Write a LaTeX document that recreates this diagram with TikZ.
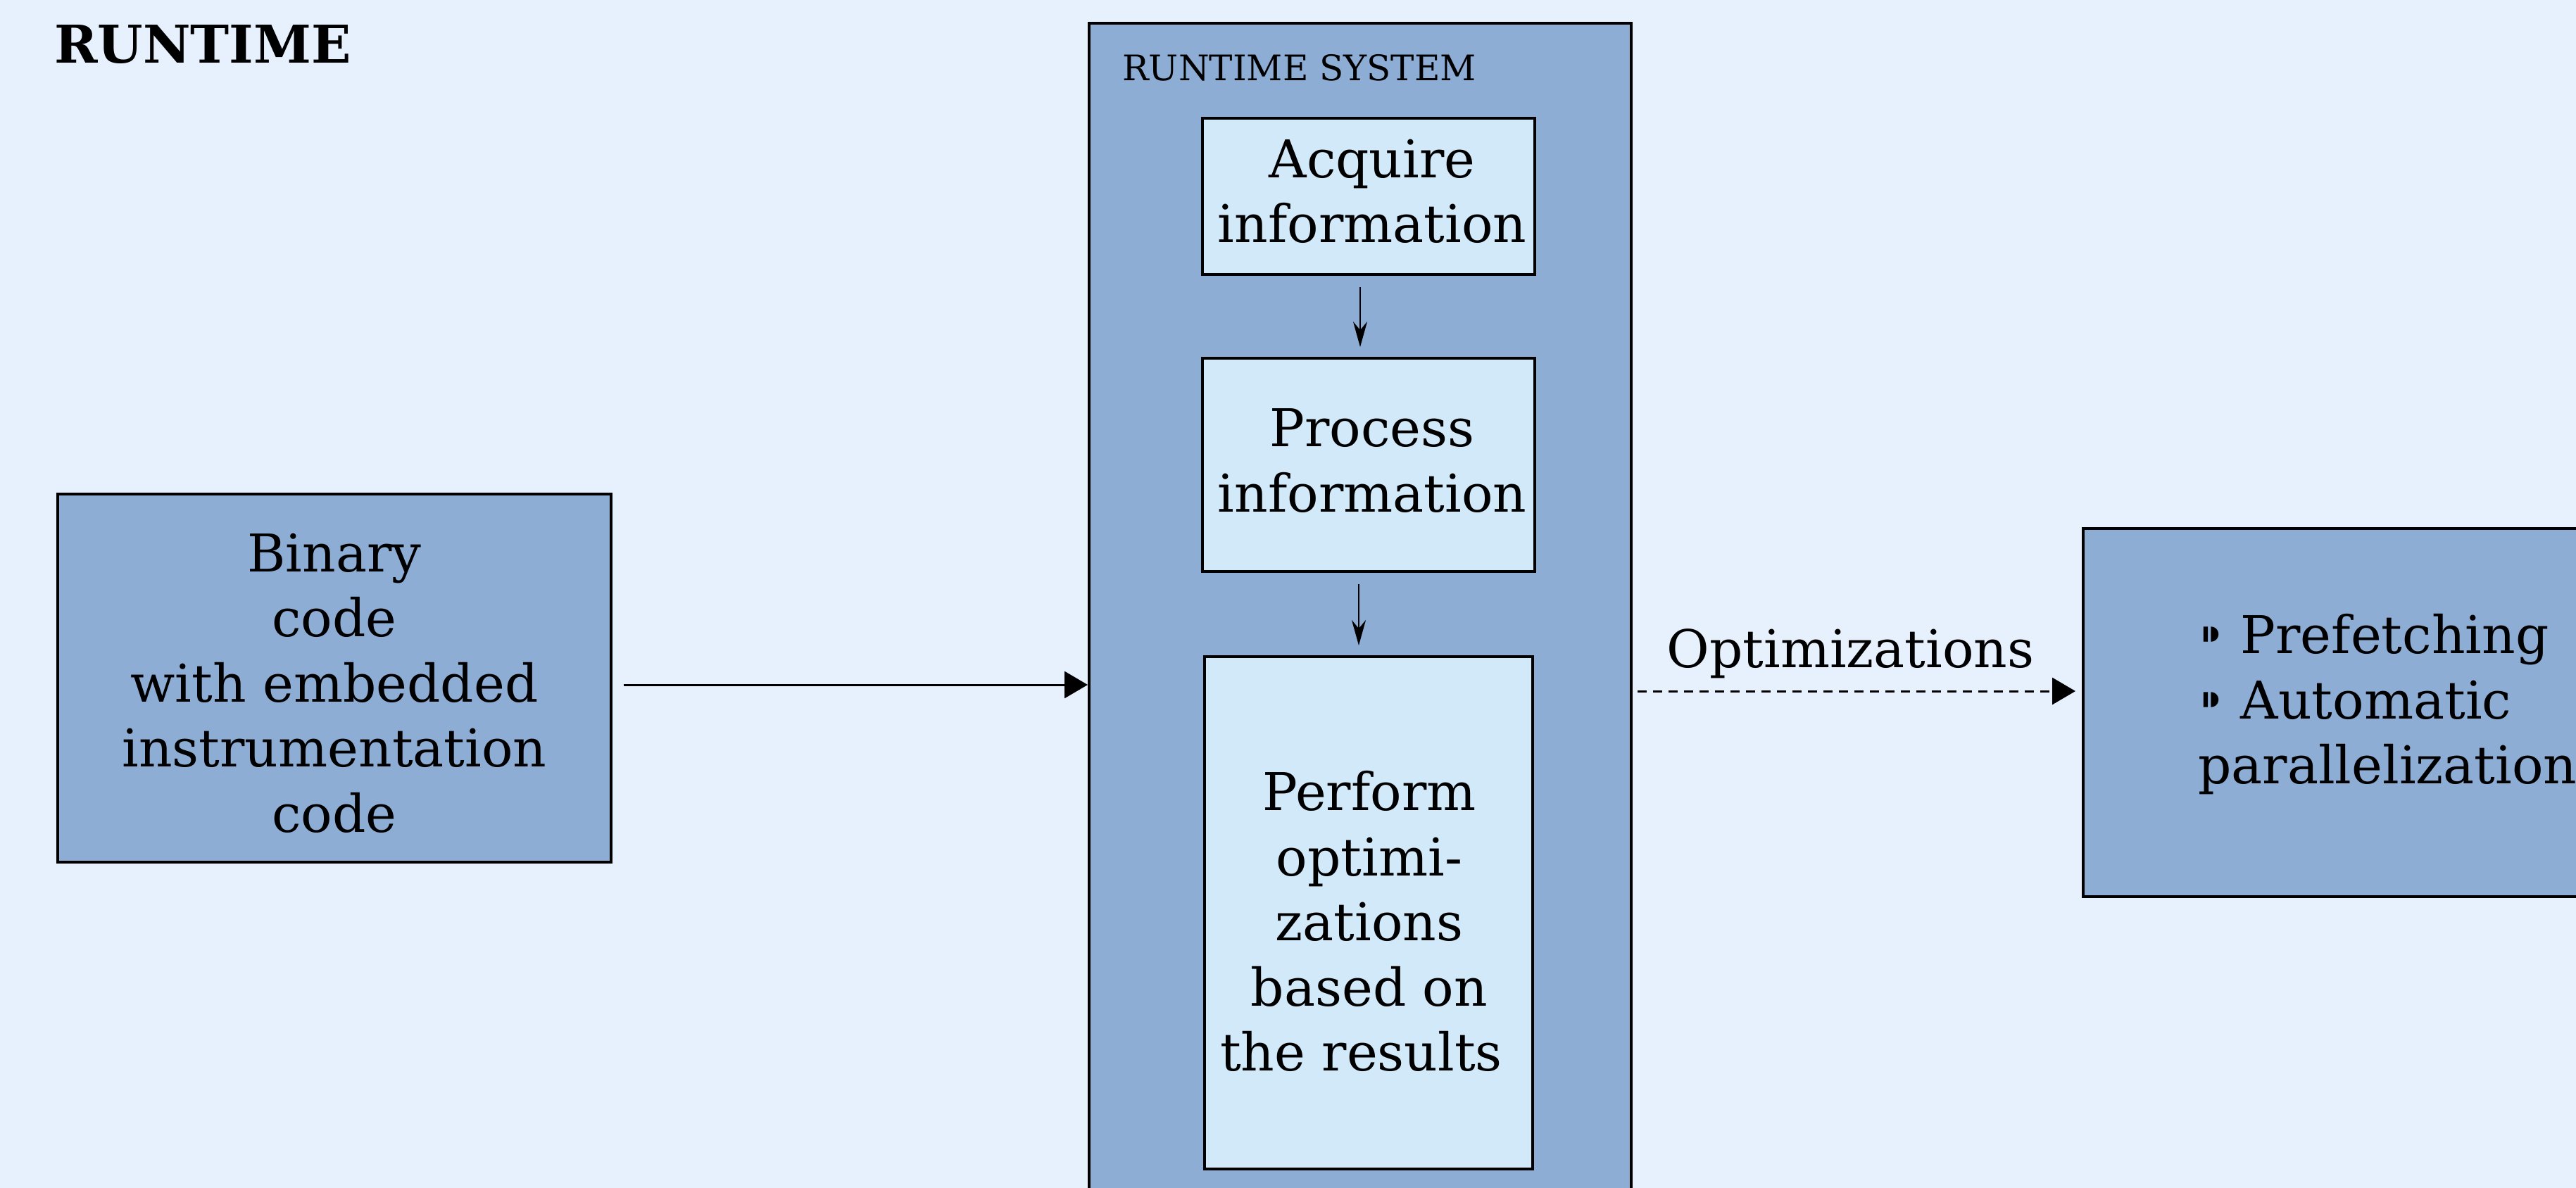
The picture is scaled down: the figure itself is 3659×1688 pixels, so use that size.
\documentclass[tikz,border=0pt]{standalone}
\usepackage{fontspec}
\setmainfont{DejaVu Serif}
\newfontfamily\bulletfont{DejaVu Sans}
\usetikzlibrary{arrows.meta}
\definecolor{pagebg}{HTML}{E7F1FD}
\definecolor{boxblue}{HTML}{8DADD5}
\definecolor{paleblue}{HTML}{D2E9F9}
\tikzset{
  bigbox/.style={draw=black, line width=4pt, fill=boxblue, inner sep=0pt},
  stepbox/.style={draw=black, line width=4pt, fill=paleblue, inner sep=0pt},
  bodytext/.style={font=\fontsize{74}{92.5}\selectfont, inner sep=0pt, align=center},
  flow/.style={-{Triangle[length=33pt,width=38pt]}, line width=3pt},
  inflow/.style={-{Stealth[length=36pt,width=20pt,inset=12pt]}, line width=2.5pt},
}
\begin{document}
\begin{tikzpicture}[x=1pt,y=-1pt]
\fill[pagebg] (0,0) rectangle (3659,1688);
\useasboundingbox (0,0) rectangle (3659,1688);
\clip (0,0) rectangle (3659,1688);

% heading
\node[anchor=base west, inner sep=0pt, font=\bfseries\fontsize{74}{90}\selectfont] (title) at (77,90) {RUNTIME};

% input program
\node[bigbox, minimum width=786pt, minimum height=523pt] (bin) at (475,963.5) {};
\node[bodytext] (bintext) at ([yshift=-7pt]bin.center)
  {Binary\\code\\with embedded\\instrumentation\\code};

% runtime system container
\node[bigbox, minimum width=770pt, minimum height=1727pt] (sys) at (1932,896.5) {};
\node[anchor=base west, inner sep=0pt, font=\fontsize{50}{60}\selectfont] (systitle) at (1594,115) {RUNTIME SYSTEM};

\node[stepbox, minimum width=472pt, minimum height=222pt] (acq) at (1944,279) {};
\node[bodytext] (acqtext) at ([xshift=5pt, yshift=7pt]acq.center) {Acquire\\information};

\node[stepbox, minimum width=472pt, minimum height=303pt] (proc) at (1944,660.5) {};
\node[bodytext] (proctext) at ([xshift=5pt, yshift=6pt]proc.center) {Process\\information};

\node[stepbox, minimum width=466pt, minimum height=728pt] (perf) at (1944,1297) {};
\node[bodytext] (perftext) at ([xshift=1pt, yshift=-12pt]perf.center)
  {Perform\\optimi-\\zations\\based on\\the results\hspace*{23pt}};

% resulting optimizations
\node[bigbox, minimum width=741pt, minimum height=523pt] (res) at (3329.5,1012.5) {};
\node[bodytext, anchor=west, align=left] (reslist) at (3122,1001)
  {{\bulletfont ⁍} Prefetching\\{\bulletfont ⁍} Automatic\\parallelization};

% connectors
\draw[inflow, shorten <=16pt, shorten >=14pt] ([xshift=-12pt]acq.south) -- ([xshift=-12pt]acq.south |- proc.north);
\draw[inflow, shorten <=16pt, shorten >=14pt] ([xshift=-14pt]proc.south) -- ([xshift=-14pt]proc.south |- perf.north);
\draw[flow, shorten <=16pt] ([yshift=-9.5pt]bin.east) -- ([yshift=-9.5pt]bin.east -| sys.west);
\coordinate (dstart) at ([xshift=7pt]sys.east |- 0,982);
\draw[flow, dashed, dash pattern=on 13pt off 9pt, shorten >=9pt] (dstart) -- (dstart -| res.west)
  node[midway, yshift=53pt, xshift=-13pt, bodytext, solid] (optlabel) {Optimizations};
\end{tikzpicture}
\end{document}
